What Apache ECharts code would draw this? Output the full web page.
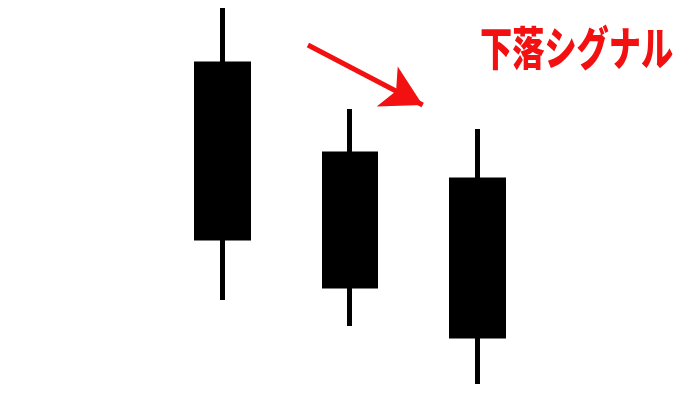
<!DOCTYPE html>
<html>
<head>
<meta charset="utf-8">
<script src="https://cdn.jsdelivr.net/npm/echarts@6/dist/echarts.min.js"></script>
<style>
html,body{margin:0;padding:0;background:#fff;}
#c{width:700px;height:400px;}
</style>
</head>
<body>
<div id="c"></div>
<script>
// Candles: [open, close, low, high]
const categories = ['1', '2', '3'];
const candleValues = [
  [336, 162, 100, 392],
  [246, 114, 74, 291],
  [220, 64, 16, 271]
];
// Arrow start / end in (candle index, price) units
const arrowStart = [0.67, 355];
const arrowEnd = [1.57, 295];
const signalText = '下落シグナル';

const chart = echarts.init(document.getElementById('c'));
chart.setOption({
  backgroundColor: '#ffffff',
  animation: false,
  grid: { left: 158.75, width: 382.5, top: 0, bottom: 0 },
  xAxis: [
    { type: 'category', data: categories, show: false, boundaryGap: true },
    { type: 'value', min: -0.5, max: 2.5, show: false }
  ],
  yAxis: { type: 'value', min: 0, max: 400, show: false },
  series: [
    {
      type: 'candlestick',
      data: candleValues,
      barWidth: 52,
      itemStyle: {
        color: '#000', color0: '#000',
        borderColor: '#000', borderColor0: '#000',
        borderWidth: 5
      }
    },
    {
      type: 'line',
      xAxisIndex: 1,
      data: [],
      markLine: {
        silent: true,
        animation: false,
        symbol: ['none', 'arrow'],
        symbolSize: [34, 40],
        label: { show: false },
        lineStyle: { color: '#f21010', width: 5, type: 'solid' },
        data: [[{ coord: arrowStart }, { coord: arrowEnd }]]
      }
    }
  ],
  graphic: [
    {
      type: 'text',
      left: 480,
      top: 25,
      scaleX: 0.7,
      style: {
        text: signalText,
        fill: '#f21010',
        font: '900 46px "Noto Sans CJK JP"'
      }
    }
  ]
});
</script>
</body>
</html>
